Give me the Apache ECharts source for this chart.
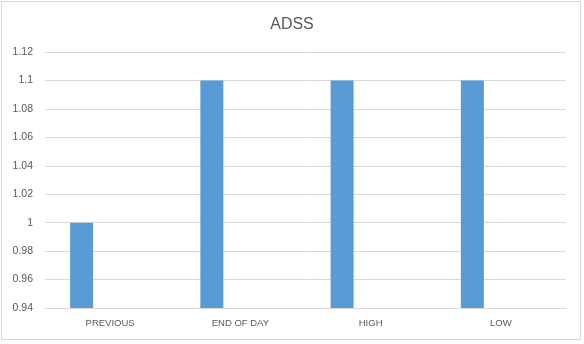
<!DOCTYPE html>
<html>
<head>
<meta charset="utf-8">
<script src="https://cdn.jsdelivr.net/npm/echarts@6/dist/echarts.min.js"></script>
<style>
  html, body { margin: 0; padding: 0; background: #fff; }
  #frame { position: absolute; left: 1px; top: 1px; width: 580px; height: 339px; border: 1px solid #d9d9d9; box-sizing: border-box; }
  #chart { position: absolute; left: 0; top: 0; width: 584px; height: 344px; }
</style>
</head>
<body>
<div id="frame"></div>
<div id="chart"></div>
<script>
// Price snapshot for ADSS
const categories = ['PREVIOUS', 'END OF DAY', 'HIGH', 'LOW'];
const priceValues = [1.00, 1.10, 1.10, 1.10];
const secondValues = [null, null, null, null];
const yTicks = { min: 0.94, max: 1.12, interval: 0.02 };

const textColor = '#595959';
const gridColor = '#d9d9d9';
const font = '"Liberation Sans", Arial, sans-serif';

const chart = echarts.init(document.getElementById('chart'), null, { renderer: 'canvas' });
chart.setOption({
  animation: false,
  title: {
    text: 'ADSS',
    left: 'center',
    top: 12,
    textStyle: { color: textColor, fontFamily: font, fontSize: 16, fontWeight: 'normal' }
  },
  grid: { left: 45, right: 18, top: 52, bottom: 36 },
  xAxis: {
    type: 'category',
    data: categories,
    axisLine: { lineStyle: { color: gridColor } },
    axisTick: { show: false },
    axisLabel: { color: textColor, fontFamily: font, fontSize: 9.5, margin: 10 }
  },
  yAxis: {
    type: 'value',
    min: yTicks.min,
    max: yTicks.max,
    interval: yTicks.interval,
    axisLine: { show: false },
    axisTick: { show: false },
    splitLine: { lineStyle: { color: gridColor } },
    axisLabel: {
      color: textColor, fontFamily: font, fontSize: 10.5, margin: 12,
      formatter: v => String(parseFloat(v.toFixed(2)))
    }
  },
  series: [
    { name: 'Price', type: 'bar', data: priceValues, barWidth: 23, barGap: '148%',
      itemStyle: { color: '#5b9bd5' } },
    { name: 'Other', type: 'bar', data: secondValues, barWidth: 23,
      itemStyle: { color: '#ed7d31' } }
  ]
});
</script>
</body>
</html>
